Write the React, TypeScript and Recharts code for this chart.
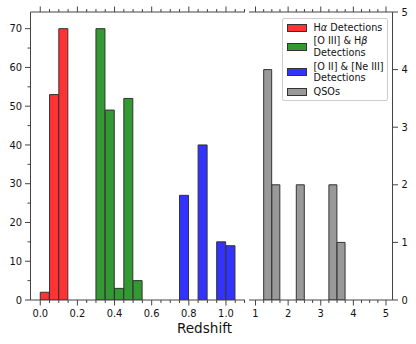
import React from 'react';
import { BarChart, Bar, XAxis, YAxis } from 'recharts';

// redshift histogram, bins of 0.05 (centres)
const zBins = [0.025, 0.075, 0.125, 0.175, 0.225, 0.275, 0.325, 0.375, 0.425, 0.475, 0.525,
  0.575, 0.625, 0.675, 0.725, 0.775, 0.825, 0.875, 0.925, 0.975, 1.025];
const halpha = [2, 53, 70, null, null, null, null, null, null, null, null,
  null, null, null, null, null, null, null, null, null, null];
const oiiiHb = [null, null, null, null, null, null, 70, 49, 3, 52, 5,
  null, null, null, null, null, null, null, null, null, null];
const oiiNeiii = [null, null, null, null, null, null, null, null, null, null, null,
  null, null, null, null, 27, null, 40, null, 15, 14];

// QSO histogram, bins of 0.25 (centres)
const qsoBins = [1.125, 1.375, 1.625, 1.875, 2.125, 2.375, 2.625, 2.875,
  3.125, 3.375, 3.625, 3.875, 4.125, 4.375, 4.625, 4.875];
const qsoCounts = [null, 4, 2, null, null, 2, null, null, null, 2, 1, null, null, null, null, null];

const zTicks = [0, 0.05, 0.1, 0.15, 0.2, 0.25, 0.3, 0.35, 0.4, 0.45, 0.5, 0.55,
  0.6, 0.65, 0.7, 0.75, 0.8, 0.85, 0.9, 0.95, 1.0, 1.05, 1.1];
const zMajor = [0, 0.2, 0.4, 0.6, 0.8, 1.0];
const countTicks = [0, 5, 10, 15, 20, 25, 30, 35, 40, 45, 50, 55, 60, 65, 70];
const countMajor = [0, 10, 20, 30, 40, 50, 60, 70];
const qsoZTicks = [1, 1.25, 1.5, 1.75, 2, 2.25, 2.5, 2.75, 3, 3.25, 3.5, 3.75, 4, 4.25, 4.5, 4.75, 5];
const qsoZMajor = [1, 2, 3, 4, 5];
const qsoCountTicks = [0, 1, 2, 3, 4, 5];

const RED = '#ff3333';
const GREEN = '#339933';
const BLUE = '#3333ff';
const GREY = '#999999';
const EDGE = '#333333';
const AX = '#444444';
const FONT = '"DejaVu Sans", sans-serif';

const zData = zBins.map((z, i) => ({ z, ha: halpha[i], o3: oiiiHb[i], o2: oiiNeiii[i] }));
const qsoData = qsoBins.map((z, i) => ({ z, n: qsoCounts[i] }));

function makeTick(side: string, majors: number[], fmt: (v: number) => string) {
  return (p: any) => {
    const v = p.payload.value;
    const major = majors.some((m) => Math.abs(m - v) < 1e-9);
    const len = major ? 5.5 : 3;
    const { x, y } = p;
    const txt = { fontFamily: FONT, fontSize: 9.9, fill: '#111' };
    if (side === 'bottom') {
      return (
        <g>
          <line x1={x} x2={x} y1={y} y2={y + len} stroke={AX} />
          {major && <text x={x} y={y + 17.4} textAnchor="middle" {...txt}>{fmt(v)}</text>}
        </g>
      );
    }
    if (side === 'top') {
      return <line x1={x} x2={x} y1={y} y2={y - len} stroke={AX} />;
    }
    if (side === 'left') {
      return (
        <g>
          <line x1={x} x2={x - len} y1={y} y2={y} stroke={AX} />
          {major && <text x={x - len - 3} y={y + 3.6} textAnchor="end" {...txt}>{fmt(v)}</text>}
        </g>
      );
    }
    return (
      <g>
        <line x1={x} x2={x + len} y1={y} y2={y} stroke={AX} />
        {major && <text x={x + len + 3.5} y={y + 3.6} textAnchor="start" {...txt}>{fmt(v)}</text>}
      </g>
    );
  };
}

const legendItems = [
  { color: RED, label: [<span>H<i>α</i> Detections</span>] },
  { color: GREEN, label: [<span>[O III] &amp; H<i>β</i></span>, <span>Detections</span>] },
  { color: BLUE, label: [<span>[O II] &amp; [Ne III]</span>, <span>Detections</span>] },
  { color: GREY, label: [<span>QSOs</span>] },
];

function LegendBox() {
  return (
    <div style={{
      position: 'absolute', left: 281.5, top: 18.3, width: 104, padding: '2.5px 0 3px 0',
      border: '1px solid #cccccc', borderRadius: 2, background: 'rgba(255,255,255,0.8)',
      fontFamily: FONT, fontSize: 9.7, color: '#111',
    }}>
      {legendItems.map((it, i) => (
        <div key={i} style={{ display: 'flex', alignItems: 'center', marginTop: i === 0 ? 0 : 2.2 }}>
          <div style={{ width: 18, height: 6, marginLeft: 4, background: it.color, border: `1px solid ${EDGE}` }} />
          <div style={{ marginLeft: 7, lineHeight: '11.5px' }}>
            {it.label.map((l, j) => <div key={j}>{l}</div>)}
          </div>
        </div>
      ))}
    </div>
  );
}

export default function App() {
  return (
    <div style={{ position: 'absolute', left: 0, top: 0, width: 416, height: 344, background: '#fff' }}>
      <BarChart
        width={416}
        height={344}
        data={zData}
        margin={{ top: 0, right: 171, bottom: 0, left: 0 }}
        barCategoryGap={0}
        barGap={0}
        style={{ position: 'absolute', left: 0, top: 0 }}
      >
        <XAxis xAxisId="b" dataKey="z" type="number" domain={[-0.0525, 1.1025]} allowDataOverflow
          ticks={zTicks} interval={0} tickSize={0} tickMargin={0} tickLine={false}
          tick={makeTick('bottom', zMajor, (v) => v.toFixed(1))} axisLine={{ stroke: AX }} height={44} />
        <XAxis xAxisId="t" orientation="top" dataKey="z" type="number" domain={[-0.0525, 1.1025]} allowDataOverflow
          ticks={zTicks} interval={0} tickSize={0} tickMargin={0} tickLine={false}
          tick={makeTick('top', zMajor, String)} axisLine={{ stroke: AX }} height={12} />
        <YAxis yAxisId="l" type="number" domain={[0, 74.3]} allowDataOverflow
          ticks={countTicks} interval={0} tickSize={0} tickMargin={0} tickLine={false}
          tick={makeTick('left', countMajor, String)} axisLine={{ stroke: AX }} width={30.5} />
        <YAxis yAxisId="r" orientation="right" type="number" domain={[0, 74.3]} allowDataOverflow
          tick={false} tickLine={false} axisLine={{ stroke: AX }} width={0} />
        <Bar xAxisId="b" yAxisId="l" dataKey="ha" stackId="z" fill={RED} stroke={EDGE} strokeWidth={1} isAnimationActive={false} />
        <Bar xAxisId="b" yAxisId="l" dataKey="o3" stackId="z" fill={GREEN} stroke={EDGE} strokeWidth={1} isAnimationActive={false} />
        <Bar xAxisId="b" yAxisId="l" dataKey="o2" stackId="z" fill={BLUE} stroke={EDGE} strokeWidth={1} isAnimationActive={false} />
      </BarChart>

      <BarChart
        width={416}
        height={344}
        data={qsoData}
        margin={{ top: 0, right: 0, bottom: 0, left: 249 }}
        barCategoryGap={0}
        barGap={0}
        style={{ position: 'absolute', left: 0, top: 0 }}
      >
        <XAxis xAxisId="b" dataKey="z" type="number" domain={[0.8, 5.2]} allowDataOverflow
          ticks={qsoZTicks} interval={0} tickSize={0} tickMargin={0} tickLine={false}
          tick={makeTick('bottom', qsoZMajor, String)} axisLine={{ stroke: AX }} height={44} />
        <XAxis xAxisId="t" orientation="top" dataKey="z" type="number" domain={[0.8, 5.2]} allowDataOverflow
          ticks={qsoZTicks} interval={0} tickSize={0} tickMargin={0} tickLine={false}
          tick={makeTick('top', qsoZMajor, String)} axisLine={{ stroke: AX }} height={12} />
        <YAxis yAxisId="l" type="number" domain={[0, 5]} allowDataOverflow
          tick={false} tickLine={false} axisLine={{ stroke: AX }} width={0} />
        <YAxis yAxisId="r" orientation="right" type="number" domain={[0, 5]} allowDataOverflow
          ticks={qsoCountTicks} interval={0} tickSize={0} tickMargin={0} tickLine={false}
          tick={makeTick('right', qsoCountTicks, String)} axisLine={{ stroke: AX }} width={23.5} />
        <Bar xAxisId="b" yAxisId="r" dataKey="n" fill={GREY} stroke={EDGE} strokeWidth={1} isAnimationActive={false} />
      </BarChart>

      <LegendBox />

      <svg width={416} height={344} style={{ position: 'absolute', left: 0, top: 0, pointerEvents: 'none' }}>
        <text x={204.5} y={333.3} textAnchor="middle" fontFamily={FONT} fontSize={13.6} fill="#111">Redshift</text>
      </svg>
    </div>
  );
}
